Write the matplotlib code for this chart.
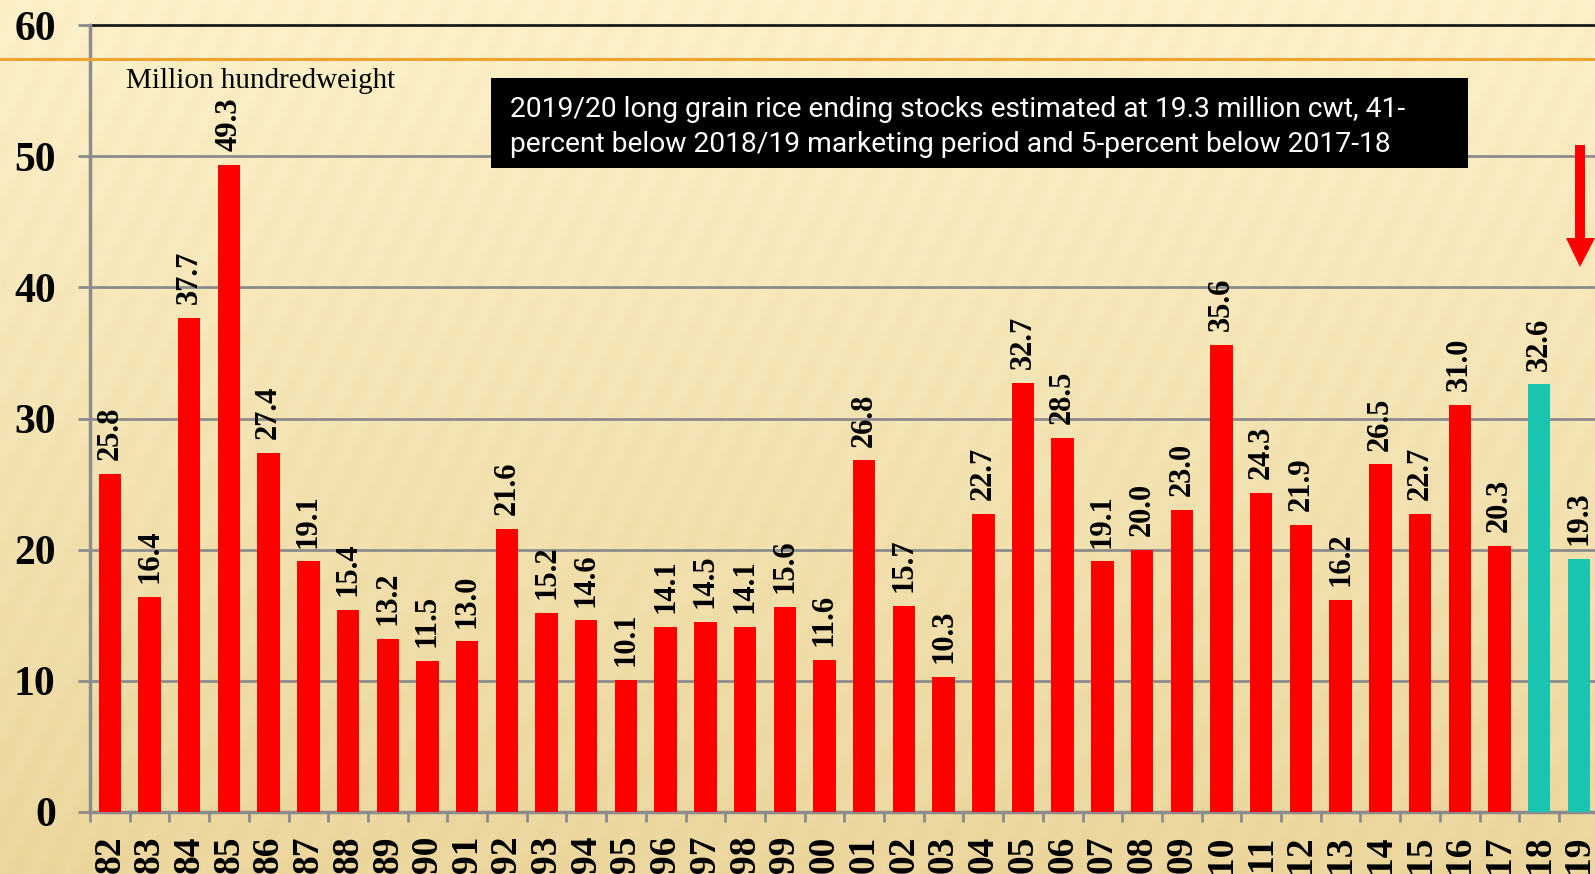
import numpy as np
import matplotlib
matplotlib.use("Agg")
import matplotlib.pyplot as plt
from matplotlib.patches import Rectangle, Polygon
from matplotlib.lines import Line2D

years = ["82", "83", "84", "85", "86", "87", "88", "89", "90", "91",
         "92", "93", "94", "95", "96", "97", "98", "99", "00", "01",
         "02", "03", "04", "05", "06", "07", "08", "09", "10", "11",
         "12", "13", "14", "15", "16", "17", "18", "19"]
stocks = [25.8, 16.4, 37.7, 49.3, 27.4, 19.1, 15.4, 13.2, 11.5, 13.0,
          21.6, 15.2, 14.6, 10.1, 14.1, 14.5, 14.1, 15.6, 11.6, 26.8,
          15.7, 10.3, 22.7, 32.7, 28.5, 19.1, 20.0, 23.0, 35.6, 24.3,
          21.9, 16.2, 26.5, 22.7, 31.0, 20.3, 32.6, 19.3]
highlight = ["18", "19"]
y_ticks = [0, 10, 20, 30, 40, 50, 60]

W, H = 1595, 874
fig = plt.figure(figsize=(W / 100, H / 100), dpi=100)

def fx(px):
    return px / W

def fy(py):
    return 1 - py / H

# background: warm gradient with faint diagonal streaks
bg = fig.add_axes([0, 0, 1, 1], zorder=-10)
bg.axis("off")
yy, xx = np.mgrid[0:H, 0:W]
top = np.array([253, 242, 203]) / 255
bot = np.array([236, 216, 160]) / 255
t = (yy / H)[..., None]
img = top * (1 - t) + bot * t
streak = 0.5 + 0.5 * np.sin((xx + 0.5 * yy) * 2 * np.pi / 34)
img = img - 0.025 * streak[..., None] * np.array([0.3, 0.6, 1.0])
bg.imshow(np.clip(img, 0, 1), aspect="auto", extent=[0, 1, 0, 1])
bg.set_xlim(0, 1)
bg.set_ylim(0, 1)

ax = fig.add_axes([fx(90), fy(812), (1598.7 - 90) / W, (812 - 25) / H])
ax.set_facecolor("none")

x = np.arange(len(years))
colors = ["#19C4B0" if y in highlight else "#FF0000" for y in years]
ax.bar(x, stocks, width=0.565, color=colors, zorder=3)

for xi, v in zip(x, stocks):
    ax.annotate(f"{v:.1f}", (xi, v), xytext=(0, 10), textcoords="offset points",
                rotation=90, ha="center", va="bottom", fontsize=22,
                fontweight="bold", family="Liberation Serif", zorder=4)

ax.set_xlim(-0.5, len(years) - 0.5)
ax.set_ylim(0, 60)
ax.set_yticks(y_ticks)
ax.set_yticklabels([str(v) for v in y_ticks], fontsize=30, fontweight="bold",
                   family="Liberation Serif")
ax.set_xticks(x - 0.5, minor=False)
ax.set_xticklabels([])
ax.set_xticks(x, minor=True)
ax.set_xticklabels(years, minor=True, rotation=90, fontsize=27,
                   fontweight="bold", family="Liberation Serif")
ax.tick_params(axis="x", which="major", length=7.2, width=2, color="#8c8c8c")
ax.tick_params(axis="x", which="minor", length=0, pad=17)
ax.tick_params(axis="y", length=8.6, width=2, color="#8c8c8c", pad=16)

for v in y_ticks[1:-1]:
    ax.axhline(v, color="#8c8c8c", lw=2, zorder=1)
ax.axhline(60, color="#1a1a1a", lw=2, zorder=1, clip_on=False)

for s in ["top", "right"]:
    ax.spines[s].set_visible(False)
for s in ["left", "bottom"]:
    ax.spines[s].set_color("#8c8c8c")
    ax.spines[s].set_linewidth(2.5)

# orange rule across the slide
fig.add_artist(Line2D([0, 1], [fy(58.7), fy(58.7)], color="#F0A22E", lw=2.2,
                      transform=fig.transFigure))

fig.text(fx(126), fy(88), "Million hundredweight", fontsize=21,
         family="Liberation Serif", va="baseline", ha="left")

# callout box
fig.add_artist(Rectangle((fx(491), fy(168)), fx(1468) - fx(491), fy(78) - fy(168),
                         transform=fig.transFigure, facecolor="black",
                         edgecolor="none", zorder=5))
fig.text(fx(510), fy(117),
         "2019/20 long grain rice ending stocks estimated at 19.3 million cwt, 41-",
         color="white", fontsize=20.3, family="Roboto", va="baseline", ha="left",
         zorder=6)
fig.text(fx(510), fy(152),
         "percent below 2018/19 marketing period and 5-percent below 2017-18",
         color="white", fontsize=20.3, family="Roboto", va="baseline", ha="left",
         zorder=6)

# red down arrow
arrow_px = [(1575, 145), (1585, 145), (1585, 238), (1595, 238),
            (1580, 267), (1566, 238), (1575, 238)]
fig.add_artist(Polygon([(fx(a), fy(b)) for a, b in arrow_px], closed=True,
                       transform=fig.transFigure, facecolor="#FF0000",
                       edgecolor="none", zorder=5))

fig.savefig("out.png", dpi=100)
